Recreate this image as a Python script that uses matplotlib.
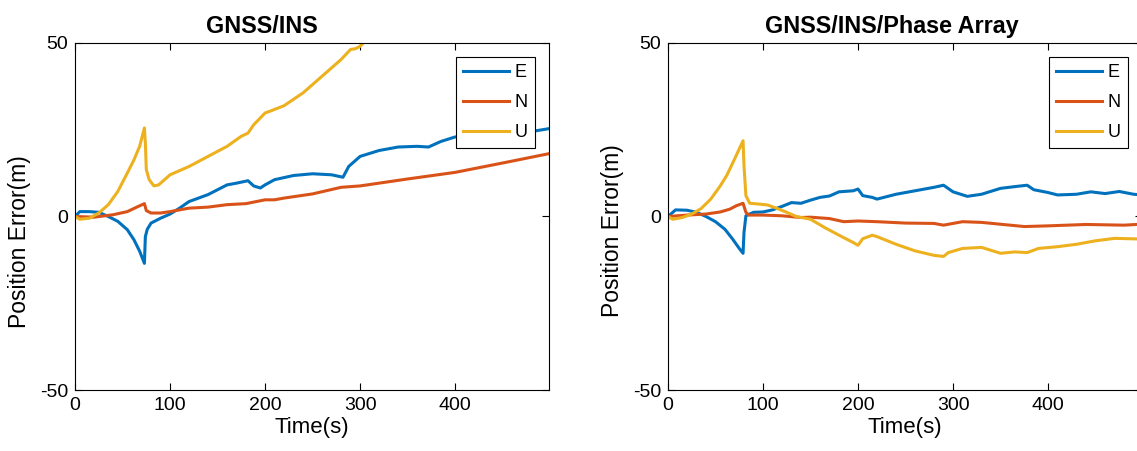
import numpy as np
import matplotlib
matplotlib.use("Agg")
import matplotlib.pyplot as plt

blueColor = "#0072BD"
redColor = "#D95319"
yellowColor = "#EDB120"

plt.rcParams['font.family'] = ['Liberation Sans', 'DejaVu Sans']
plt.rcParams['axes.unicode_minus'] = False

# GNSS/INS (left panel)
t_e1 = [0, 5, 15, 25, 35, 45, 55, 62, 68, 73, 74, 76, 80, 90, 100, 110, 120, 140, 160, 170,
        182, 188, 195, 200, 210, 230, 250, 270, 282, 288, 300, 320, 340, 360, 372, 385, 400,
        430, 470, 499]
e1 = [0, 1.4, 1.4, 1.2, 0, -1.4, -3.8, -6.7, -10, -13.5, -5.8, -3.7, -1.9, -0.5, 0.7, 2.4,
      4.3, 6.3, 9.1, 9.6, 10.3, 8.8, 8.2, 9.1, 10.6, 11.8, 12.3, 12.0, 11.3, 14.4, 17.3, 19.0,
      20.0, 20.2, 20.0, 21.6, 22.9, 23.3, 24.0, 25.3]

t_n1 = [0, 20, 40, 55, 65, 73, 75, 80, 90, 100, 120, 140, 160, 180, 200, 210, 220, 250, 280,
        300, 350, 400, 450, 499]
n1 = [0, -0.2, 0.5, 1.4, 2.7, 3.7, 1.7, 1.0, 1.0, 1.4, 2.4, 2.7, 3.4, 3.7, 4.8, 4.8, 5.3,
      6.5, 8.4, 8.8, 10.8, 12.7, 15.4, 18.1]

t_u1 = [0, 5, 15, 25, 35, 45, 55, 62, 68, 73, 74, 75, 78, 83, 88, 100, 120, 140, 160, 175,
        182, 188, 200, 205, 220, 240, 260, 280, 290, 295, 300, 304, 310]
u1 = [0, -0.8, -0.5, 1.0, 3.4, 7.2, 12.5, 16.3, 20.2, 25.5, 21.2, 13.5, 10.6, 8.8, 9.1, 12.0,
      14.4, 17.3, 20.2, 23.1, 24.0, 26.4, 29.8, 30.3, 31.9, 35.6, 40.4, 45.2, 48.1, 48.3,
      49.0, 50.2, 51.5]

# GNSS/INS/Phase Array (right panel)
t_e2 = [0, 8, 20, 30, 40, 50, 60, 68, 75, 79, 80, 82, 90, 100, 110, 120, 130, 140, 150, 160,
        170, 180, 195, 200, 205, 215, 220, 240, 260, 280, 290, 300, 315, 330, 350, 365, 378,
        385, 400, 410, 430, 445, 460, 475, 490, 499]
e2 = [0, 1.9, 1.8, 1.2, 0, -1.5, -3.7, -6.5, -9.2, -10.6, -4.6, 0.2, 1.2, 1.3, 1.9, 2.9, 4.0,
      3.8, 4.7, 5.5, 5.9, 7.1, 7.4, 7.9, 6.0, 5.5, 5.0, 6.4, 7.4, 8.4, 9.0, 7.1, 5.8, 6.4, 8.1,
      8.6, 9.0, 7.7, 6.9, 6.2, 6.4, 7.1, 6.6, 7.2, 6.4, 6.2]

t_n2 = [0, 20, 40, 55, 65, 72, 79, 82, 85, 100, 120, 140, 150, 170, 185, 200, 220, 250, 280,
        290, 310, 330, 360, 375, 400, 440, 480, 499]
n2 = [0, 0.4, 0.7, 1.3, 2.1, 3.1, 3.8, 1.2, 0.4, 0.4, 0.2, -0.3, -0.2, -0.6, -1.5, -1.3, -1.5,
      -1.9, -2.0, -2.5, -1.5, -1.7, -2.5, -2.9, -2.7, -2.3, -2.5, -2.2]

t_u2 = [0, 5, 15, 25, 35, 45, 55, 62, 70, 79, 80, 82, 86, 95, 105, 115, 125, 135, 150, 165,
        180, 195, 200, 205, 215, 220, 240, 260, 280, 290, 295, 310, 330, 350, 365, 378, 390,
        410, 430, 450, 470, 499]
u2 = [0, -0.8, -0.3, 0.7, 2.3, 5.0, 8.8, 11.9, 16.5, 21.8, 14.6, 6.0, 3.8, 3.6, 3.3, 2.3,
      1.2, 0, -0.8, -3.2, -5.4, -7.5, -8.3, -6.4, -5.4, -5.8, -8.0, -9.9, -11.2, -11.5, -10.4,
      -9.2, -8.9, -10.6, -10.2, -10.4, -9.2, -8.7, -8.0, -7.0, -6.3, -6.5]

panels = [
    ("GNSS/INS", (t_e1, e1), (t_n1, n1), (t_u1, u1), 0.0660, 0.395, 0.427),
    ("GNSS/INS/Phase Array", (t_e2, e2), (t_n2, n2), (t_u2, u2), 0.5875, 0.473, 0.458),
]

fig = plt.figure(figsize=(11.37, 4.51), dpi=100, facecolor='w')

for title, E, N, U, left, title_x, ylab_y in panels:
    ax = fig.add_axes([left, 0.135, 0.417, 0.770])
    ax.plot(E[0], E[1], color=blueColor, lw=2.2, label='E')
    ax.plot(N[0], N[1], color=redColor, lw=2.2, label='N')
    ax.plot(U[0], U[1], color=yellowColor, lw=2.2, label='U')
    ax.set_xlim(0, 499)
    ax.set_ylim(-50, 50)
    ax.set_xticks([0, 100, 200, 300, 400])
    ax.set_yticks([-50, 0, 50])
    ax.tick_params(direction='in', top=True, right=True, length=5, width=0.8,
                   labelsize=14, pad=5)
    for spine in ax.spines.values():
        spine.set_linewidth(0.8)
    ax.set_xlabel('Time(s)', fontsize=16, labelpad=2)
    ax.set_ylabel('Position Error(m)', fontsize=16.5)
    ax.yaxis.set_label_coords(-0.093, ylab_y)
    ax.set_title(title, fontsize=16.8, fontweight='bold', x=title_x, pad=7)
    leg = ax.legend(loc='upper right', bbox_to_anchor=(0.970, 0.960), borderaxespad=0,
                    fontsize=13, handlelength=2.55, labelspacing=0.72, borderpad=0.4,
                    handletextpad=0.3, fancybox=False, framealpha=1)
    leg.get_frame().set_edgecolor('black')
    leg.get_frame().set_linewidth(0.8)

fig.savefig('out.png', dpi=100)
